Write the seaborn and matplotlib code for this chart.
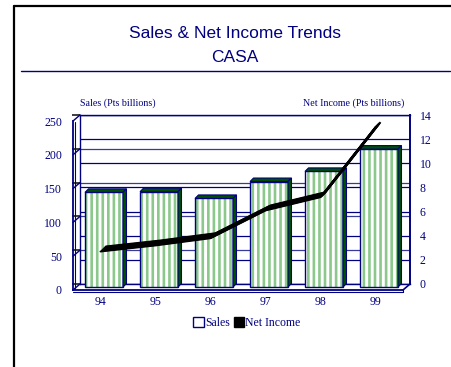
import numpy as np
import pandas as pd
import matplotlib
matplotlib.use("Agg")
import matplotlib.pyplot as plt
import seaborn as sns
from matplotlib.lines import Line2D
from matplotlib.patches import Polygon, Patch
from matplotlib.transforms import IdentityTransform, ScaledTranslation

# ---------------- data ----------------
years = ["94", "95", "96", "97", "98", "99"]
sales = [140, 141, 131, 156, 171, 204]          # Pts billions (left axis)
net_income = [2.9, 3.4, 4.0, 6.3, 7.4, 13.2]    # Pts billions (right axis)
sales_ticks = [0, 50, 100, 150, 200, 250]
income_ticks = [0, 2, 4, 6, 8, 10, 12, 14]

title_1 = "Sales & Net Income Trends"
title_2 = "CASA"
left_title = "Sales (Pts billions)"
right_title = "Net Income (Pts billions)"

# ---------------- style ----------------
sns.set_theme(style="white")
plt.rcParams["font.family"] = ["Liberation Serif", "DejaVu Serif"]
plt.rcParams["hatch.linewidth"] = 1.9
plt.rcParams["hatch.color"] = "#8cc88c"

NAVY = "#000080"
GREEN_STRIPE = "#8cc88c"
DARK_GREEN = "#005000"

W, H = 452, 367
fig = plt.figure(figsize=(W / 100, H / 100), dpi=100)
fig.patch.set_facecolor("white")


def rect(left, right, top, bottom):
    return [left / W, (H - bottom) / H, (right - left) / W, (bottom - top) / H]


# depth of the 3D box (pixels)
DX, DY = 7, 6
FL, FR, FT, FB = 73, 403, 121, 290  # front plane

# back wall axes
ax_back = fig.add_axes(rect(FL + DX, FR + DX, FT - DY, FB - DY), zorder=0)
ax_back.set_xlim(-0.5, 5.5)
ax_back.set_ylim(0, 250)
ax_back.set_xticks([])
ax_back.set_yticks(sales_ticks)
ax_back.tick_params(left=False, labelleft=False)
ax_back.yaxis.grid(True, color="#3a3a9a", lw=0.9)
for s in ax_back.spines.values():
    s.set_color(NAVY)
    s.set_linewidth(1.0)
ax_back.spines["right"].set_linewidth(1.4)
ax_back.set_facecolor("white")

ax_r = ax_back.twinx()
ax_r.set_ylim(0, 14)
ax_r.set_yticks(income_ticks)
ax_r.set_yticklabels([str(t) for t in income_ticks], fontsize=8.5, color=NAVY)
ax_r.tick_params(axis="y", length=0, pad=7)
ax_r.yaxis.grid(True, color=NAVY, lw=0.9)
for s in ax_r.spines.values():
    s.set_visible(False)
ax_r.set_zorder(0.1)
ax_r.patch.set_visible(False)

# front plane axes (left axis, categories)
ax = fig.add_axes(rect(FL, FR, FT, FB), zorder=0.6)
ax.patch.set_visible(False)
ax.set_xlim(-0.5, 5.5)
ax.set_ylim(0, 250)
ax.set_xticks(range(len(years)))
ax.set_xticklabels(years, fontsize=8.5, color=NAVY)
ax.set_yticks(sales_ticks)
ax.set_yticklabels([str(t) for t in sales_ticks], fontsize=8.5, color=NAVY)
ax.tick_params(axis="y", length=0, pad=8)
ax.tick_params(axis="x", length=0, pad=4)
for k, s in ax.spines.items():
    s.set_visible(k in ("left", "bottom"))
    s.set_color(NAVY)
    s.set_linewidth(1.3)

# side wall / floor decorations
deco = []
for v in sales_ticks:
    x0, y0 = ax.transData.transform((-0.5, v))
    deco.append(([x0, x0 + DX], [y0, y0 + DY], 1.0))
x0, y0 = ax.transData.transform((5.5, 0))
deco.append(([x0, x0 + DX], [y0, y0 + DY], 1.2))
x0, ytop = ax.transData.transform((-0.5, 250))
x0, ybot = ax.transData.transform((-0.5, 0))
deco.append(([x0 + 2, x0 + 2], [ybot + 1, ytop - 1], 0.8))
for xs, ys, lw in deco:
    fig.add_artist(Line2D(xs, ys, color=NAVY, lw=lw, transform=IdentityTransform(), zorder=0.5))
# floor slab lower edge
fig.add_artist(Line2D([FL, FR], [H - FB - 2, H - FB - 2], color=NAVY, lw=0.8,
                      transform=IdentityTransform(), zorder=0.5))
fig.add_artist(Line2D([FR, FR], [H - FB, H - FB - 2], color=NAVY, lw=0.8,
                      transform=IdentityTransform(), zorder=0.5))

# bars (mid depth)
BX, BY = 3.5, 3
ax_bar = fig.add_axes(rect(FL + BX, FR + BX, FT - BY, FB - BY), zorder=1)
ax_bar.patch.set_visible(False)
df = pd.DataFrame({"year": years, "sales": sales})
sns.barplot(data=df, x="year", y="sales", ax=ax_bar, color="white", width=0.69,
            edgecolor=GREEN_STRIPE, linewidth=0, hatch="|||", saturation=1)
ax_bar.set_xlim(-0.5, 5.5)
ax_bar.set_ylim(0, 250)
ax_bar.axis("off")

d = 3.5
for p in ax_bar.patches:
    bb = p.get_window_extent()
    x0, x1, y0, y1 = bb.x0, bb.x1, bb.y0, bb.y1
    fig.add_artist(Polygon([(x0, y0), (x1, y0), (x1, y1), (x0, y1)], closed=True,
                           fill=False, ec=NAVY, lw=1.0, transform=IdentityTransform(), zorder=1.5))
    fig.add_artist(Polygon([(x0, y1), (x1, y1), (x1 + d, y1 + d), (x0 + d, y1 + d)], closed=True,
                           fc=DARK_GREEN, ec=NAVY, lw=0.8, transform=IdentityTransform(), zorder=1.5))
    fig.add_artist(Polygon([(x1, y0), (x1 + d, y0 + d), (x1 + d, y1 + d), (x1, y1)], closed=True,
                           fc=DARK_GREEN, ec=NAVY, lw=0.8, transform=IdentityTransform(), zorder=1.5))

# net income ribbon line (front plane, scaled to the back right axis)
ax_line = fig.add_axes(rect(FL, FR, FT, FB), zorder=2)
ax_line.patch.set_visible(False)
px_per_unit = ((FB - DY) - (FT - DY)) / 14.0
lo_edge = (FB - DY) + 2.5
ax_line.set_ylim((lo_edge - FB) / px_per_unit, (lo_edge - FT) / px_per_unit)
ax_line.set_xlim(-0.5, 5.5)
dfl = pd.DataFrame({"year": years, "income": net_income})
sns.lineplot(data=dfl, x="year", y="income", ax=ax_line, color="black", lw=1.4, sort=False)
xs = np.arange(len(years))
for k in np.linspace(0, 1, 9)[1:]:
    off = ScaledTranslation(k * 5 / 100, k * 5 / 100, fig.dpi_scale_trans)
    ax_line.plot(xs, net_income, color="black", lw=1.4, transform=ax_line.transData + off,
                 solid_capstyle="butt")
ax_line.set_xlim(-0.5, 5.5)
ax_line.set_ylim((lo_edge - FB) / px_per_unit, (lo_edge - FT) / px_per_unit)
ax_line.axis("off")

# titles
fig.text(235 / W, 1 - 33 / H, title_1, ha="center", va="center", fontsize=12.5,
         color=NAVY, family=["Liberation Sans", "DejaVu Sans"])
fig.text(235 / W, 1 - 58 / H, title_2, ha="center", va="center", fontsize=12.5,
         color=NAVY, family=["Liberation Sans", "DejaVu Sans"])
fig.add_artist(Line2D([21, 450], [H - 71, H - 71], color=NAVY, lw=1.0, transform=IdentityTransform()))

fig.text(80 / W, 1 - 103 / H, left_title, ha="left", va="center", fontsize=7.2, color=NAVY)
fig.text(404 / W, 1 - 103 / H, right_title, ha="right", va="center", fontsize=7.2, color=NAVY)

# legend
handles = [Patch(facecolor="white", edgecolor=NAVY, lw=1.0),
           Patch(facecolor="black", edgecolor="black")]
fig.legend(handles, ["Sales", "Net Income"], loc="center", bbox_to_anchor=(247 / W, 1 - 323 / H),
           ncol=2, frameon=False, fontsize=8.5, labelcolor=NAVY, handlelength=0.9,
           handleheight=0.9, handletextpad=0.1, columnspacing=0.3, borderpad=0)

# outer frame (left and top)
fig.add_artist(Line2D([14, 14], [0, H - 6], color="black", lw=1.6, transform=IdentityTransform()))
fig.add_artist(Line2D([13.5, W + 2], [H - 6, H - 6], color="black", lw=1.6, transform=IdentityTransform()))

fig.savefig("out.png", dpi=100)
